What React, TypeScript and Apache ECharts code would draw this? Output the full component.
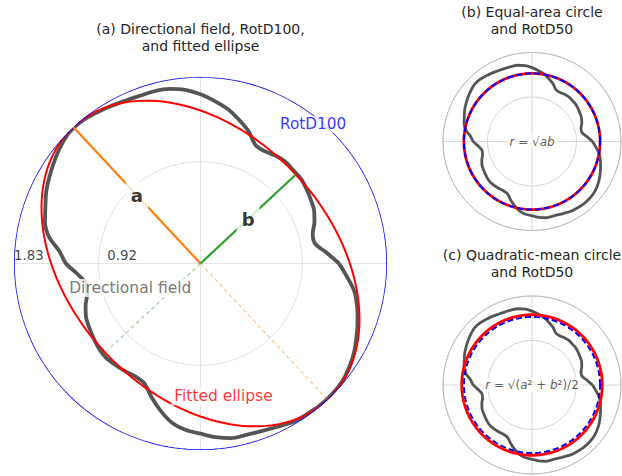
import React, { useEffect, useRef } from "react";
import * as echarts from "echarts";

// ---- data ----
const fieldAngles = [
  0, 5, 10, 15, 20, 25, 30, 35, 40, 45, 50, 55, 60, 65, 70, 75, 80, 85,
  90, 95, 100, 105, 110, 115, 120, 125, 130, 135, 140, 145, 150, 155, 160, 165, 170, 175,
  180, 185, 190, 195, 200, 205, 210, 215, 220, 225, 230, 235, 240, 245, 250, 255, 260, 265,
  270, 275, 280, 285, 290, 295, 300, 305, 310, 315, 320, 325, 330, 335, 340, 345, 350, 355,
];
const fieldValues = [
  1.36, 1.24, 1.14, 1.14, 1.19, 1.23, 1.25, 1.27, 1.29, 1.29, 1.30, 1.29, 1.27, 1.28, 1.38, 1.46, 1.54, 1.60,
  1.66, 1.71, 1.74, 1.75, 1.75, 1.76, 1.78, 1.80, 1.82, 1.82, 1.79, 1.75, 1.71, 1.67, 1.62, 1.58, 1.51, 1.39,
  1.32, 1.21, 1.14, 1.15, 1.20, 1.24, 1.26, 1.28, 1.30, 1.31, 1.30, 1.29, 1.28, 1.30, 1.40, 1.50, 1.59, 1.64,
  1.67, 1.71, 1.74, 1.74, 1.75, 1.77, 1.80, 1.81, 1.82, 1.82, 1.81, 1.78, 1.74, 1.69, 1.64, 1.59, 1.53, 1.44,
];
const rotD100 = 1.83;
const rotD50 = 1.53;
const ellipseA = 1.83;
const ellipseB = 1.28;
const majorAxisAngle = 133; // degrees
const rTickValues = [0.915, 1.83];
const rTickLabels = ["0.92", "1.83"];
const panelTitles = [
  "(a) Directional field, RotD100,\nand fitted ellipse",
  "(b) Equal-area circle\nand RotD50",
  "(c) Quadratic-mean circle\nand RotD50",
];
const panelRMax = [1.83, 2.0, 2.0];

const FONT = "DejaVu Sans";

function closedField(): number[][] {
  const pts = fieldAngles.map((t, i) => [fieldValues[i], t]);
  pts.push([fieldValues[0], 360]);
  return pts;
}
function ellipsePts(a: number, b: number, rot: number): number[][] {
  const out: number[][] = [];
  for (let t = 0; t <= 360; t += 2) {
    const phi = ((t - rot) * Math.PI) / 180;
    const r = (a * b) / Math.sqrt((b * Math.cos(phi)) ** 2 + (a * Math.sin(phi)) ** 2);
    out.push([r, t]);
  }
  return out;
}
function circlePts(r: number): number[][] {
  const out: number[][] = [];
  for (let t = 0; t <= 360; t += 2) out.push([r, t]);
  return out;
}

export default function App() {
  const ref = useRef<HTMLDivElement>(null);
  useEffect(() => {
    document.body.style.margin = "0";
    if (!ref.current) return;
    const chart = echarts.init(ref.current, undefined, { renderer: "svg" });
    const field = closedField();
    const eqArea = Math.sqrt(ellipseA * ellipseB);
    const quadMean = Math.sqrt((ellipseA ** 2 + ellipseB ** 2) / 2);
    const minorAxisAngle = majorAxisAngle - 90;

    const polar = [
      { center: [200.5, 263.5], radius: 186.5 },
      { center: [532, 141.5], radius: 89 },
      { center: [532, 385], radius: 89 },
    ];
    const angleAxis = [0, 1, 2].map((i) => ({
      polarIndex: i,
      type: "value",
      min: 0,
      max: 360,
      interval: 90,
      startAngle: 0,
      clockwise: false,
      axisLine: { show: i > 0, lineStyle: { color: "#bdbdbd", width: 1 } },
      axisTick: { show: false },
      axisLabel: { show: false },
      splitLine: { show: true, lineStyle: { color: i === 0 ? "#e3e3e3" : "#d6d6d6", width: 1 } },
    }));
    const radiusAxis = [0, 1, 2].map((i) => ({
      polarIndex: i,
      type: "value",
      min: 0,
      max: panelRMax[i],
      interval: 1,
      axisLine: { show: false },
      axisTick: { show: false },
      axisLabel: { show: false },
      splitLine: { show: true, lineStyle: { color: i === 0 ? "#e3e3e3" : "#d6d6d6", width: 1 } },
    }));

    const lineBase = (pi: number) => ({
      type: "line",
      coordinateSystem: "polar",
      polarIndex: pi,
      showSymbol: false,
      symbol: "none",
      silent: true,
    });
    const textPoint = (r: number, ang: number, label: any) => ({
      value: [r, ang],
      label: { show: true, position: "inside", ...label },
    });

    const series: any[] = [
      // panel (a)
      { ...lineBase(0), data: field, smooth: 0.3, lineStyle: { color: "#555555", width: 3.8 }, z: 2 },
      { ...lineBase(0), data: ellipsePts(ellipseA, ellipseB, majorAxisAngle), lineStyle: { color: "#ff0000", width: 2 }, z: 3 },
      { ...lineBase(0), data: circlePts(rotD100), lineStyle: { color: "#0000ff", width: 1.5 }, z: 3 },
      { ...lineBase(0), data: [[0, majorAxisAngle], [ellipseA, majorAxisAngle]], lineStyle: { color: "#ff7f0e", width: 2.2 }, z: 4 },
      { ...lineBase(0), data: [[0, majorAxisAngle + 180], [ellipseA, majorAxisAngle + 180]], lineStyle: { color: "#ff7f0e", width: 1.2, type: [4, 3], opacity: 0.45 }, z: 4 },
      { ...lineBase(0), data: [[0, minorAxisAngle], [ellipseB, minorAxisAngle]], lineStyle: { color: "#2ca02c", width: 2.2 }, z: 4 },
      { ...lineBase(0), data: [[0, minorAxisAngle + 180], [ellipseB, minorAxisAngle + 180]], lineStyle: { color: "#2ca02c", width: 1.2, type: [4, 3], opacity: 0.45 }, z: 4 },
      {
        type: "scatter",
        coordinateSystem: "polar",
        polarIndex: 0,
        symbolSize: 0.1,
        itemStyle: { color: "rgba(0,0,0,0)" },
        silent: true,
        z: 10,
        data: [
          textPoint(ellipseA / 2, majorAxisAngle, { formatter: "a", fontWeight: "bold", fontSize: 18, color: "#000", backgroundColor: "#fff", padding: [2, 5], lineHeight: 22 }),
          textPoint(ellipseB / 2, minorAxisAngle, { formatter: "b", fontWeight: "bold", fontSize: 18, color: "#000", backgroundColor: "#fff", padding: [2, 5], lineHeight: 22 }),
          textPoint(1.757, 51, { formatter: "RotD100", fontSize: 15.3, color: "#0000ff", backgroundColor: "#fff", padding: [1, 3] }),
          textPoint(0.73, 199.2, { formatter: "Directional field", fontSize: 15.5, color: "#555555", backgroundColor: "#fff", padding: [1, 3] }),
          textPoint(1.323, 279.8, { formatter: "Fitted ellipse", fontSize: 15.5, color: "#ff0000", backgroundColor: "#fff", padding: [1, 3] }),
          ...rTickValues.map((v, i) => ({
            value: [v, 180],
            label: { show: true, formatter: rTickLabels[i], position: "right", distance: 0, offset: [0, -8], fontSize: 13.3, color: "#111" },
          })),
        ],
      },
      // panel (b)
      { ...lineBase(1), data: field, smooth: 0.3, lineStyle: { color: "#555555", width: 2.8 }, z: 2 },
      { ...lineBase(1), data: circlePts(eqArea), lineStyle: { color: "#ff0000", width: 2.8 }, z: 3 },
      { ...lineBase(1), data: circlePts(rotD50), lineStyle: { color: "#0000ff", width: 2, type: [6, 3] }, z: 4 },
      // panel (c)
      { ...lineBase(2), data: field, smooth: 0.3, lineStyle: { color: "#555555", width: 2.8 }, z: 2 },
      { ...lineBase(2), data: circlePts(rotD50), lineStyle: { color: "#0000ff", width: 2, type: [6, 3] }, z: 3 },
      { ...lineBase(2), data: circlePts(quadMean), lineStyle: { color: "#ff0000", width: 2.8 }, z: 4 },
      {
        type: "scatter",
        coordinateSystem: "polar",
        polarIndex: 1,
        symbolSize: 0.1,
        itemStyle: { color: "rgba(0,0,0,0)" },
        silent: true,
        z: 10,
        data: [
          textPoint(0, 0, {
            formatter: "{i|r} = √{i|ab}",
            fontSize: 12,
            color: "#333",
            backgroundColor: "#fff",
            padding: [1, 2],
            rich: { i: { fontStyle: "italic", fontSize: 12, color: "#333", fontFamily: FONT } },
          }),
        ],
      },
      {
        type: "scatter",
        coordinateSystem: "polar",
        polarIndex: 2,
        symbolSize: 0.1,
        itemStyle: { color: "rgba(0,0,0,0)" },
        silent: true,
        z: 10,
        data: [
          textPoint(0, 0, {
            formatter: "{i|r} = √({i|a}² + {i|b}²)/2",
            fontSize: 12,
            color: "#333",
            backgroundColor: "#fff",
            padding: [1, 2],
            rich: { i: { fontStyle: "italic", fontSize: 12, color: "#333", fontFamily: FONT } },
          }),
        ],
      },
    ];

    const titlePos = [
      { left: 200.5, top: 20.5 },
      { left: 532, top: 3 },
      { left: 532, top: 246 },
    ];
    const title = panelTitles.map((t, i) => ({
      text: t,
      left: titlePos[i].left,
      top: titlePos[i].top,
      textAlign: "center",
      padding: 0,
      textStyle: { fontFamily: FONT, fontSize: 14, fontWeight: "normal", color: "#262626", lineHeight: 17 },
    }));

    chart.setOption({
      animation: false,
      textStyle: { fontFamily: FONT },
      title,
      polar,
      angleAxis,
      radiusAxis,
      series,
    });
    return () => chart.dispose();
  }, []);
  return <div ref={ref} style={{ width: 622, height: 476 }} />;
}
